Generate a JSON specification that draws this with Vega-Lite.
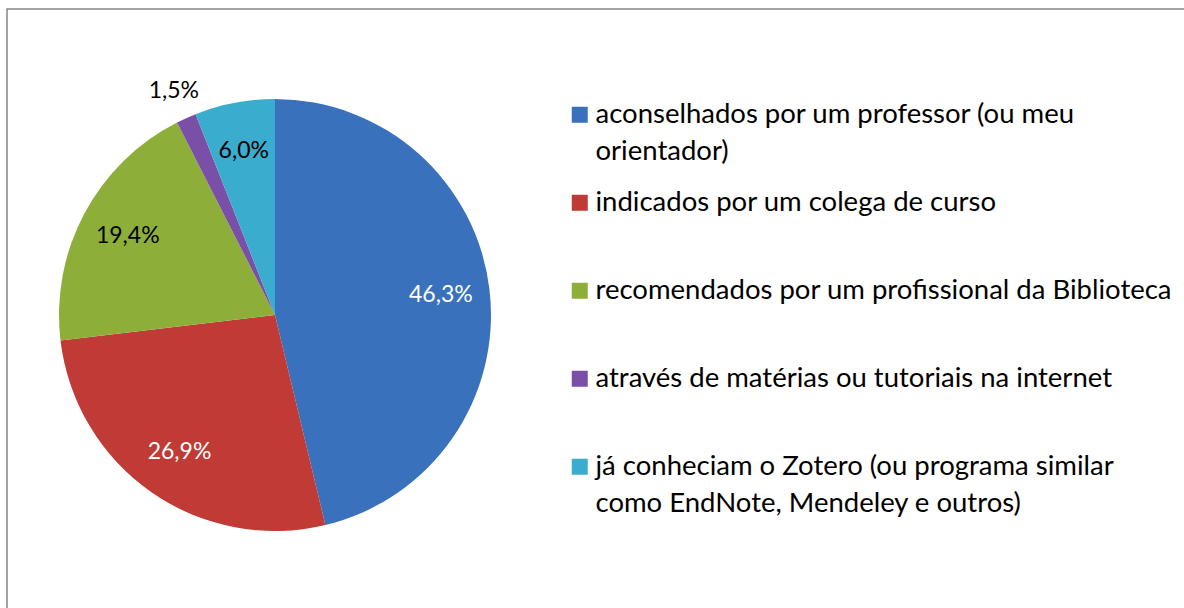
{
  "$schema": "https://vega.github.io/schema/vega-lite/v6.json",
  "width": 1177,
  "height": 599,
  "autosize": {"type": "none"},
  "padding": {"left": 7, "top": 9, "right": 0, "bottom": 0},
  "background": "white",
  "view": {"stroke": "#868686", "strokeWidth": 1.5, "strokeDash": [1177, 1776, 599, 10]},
  "config": {
    "font": "Lato",
    "locale": {"number": {"decimal": ",", "thousands": ".", "grouping": [3], "currency": ["", ""]}}
  },
  "data": {
    "values": [
      {"cat": "aconselhados por um professor (ou meu orientador)", "pct": 0.463, "ord": 1},
      {"cat": "indicados por um colega de curso", "pct": 0.269, "ord": 2},
      {"cat": "recomendados por um profissional da Biblioteca", "pct": 0.194, "ord": 3},
      {"cat": "através de matérias ou tutoriais na internet", "pct": 0.015, "ord": 4},
      {"cat": "já conheciam o Zotero (ou programa similar como EndNote, Mendeley e outros)", "pct": 0.06, "ord": 5}
    ]
  },
  "encoding": {
    "theta": {"field": "pct", "type": "quantitative", "stack": true},
    "order": {"field": "ord", "type": "quantitative"}
  },
  "layer": [
    {
      "mark": {"type": "arc", "outerRadius": 216, "x": {"expr": "width*0.2277"}, "y": {"expr": "height*0.5109"}},
      "encoding": {
        "color": {
          "field": "cat",
          "type": "nominal",
          "sort": null,
          "scale": {
            "domain": [
              "aconselhados por um professor (ou meu orientador)",
              "indicados por um colega de curso",
              "recomendados por um profissional da Biblioteca",
              "através de matérias ou tutoriais na internet",
              "já conheciam o Zotero (ou programa similar como EndNote, Mendeley e outros)"
            ],
            "range": ["#3a71bd", "#c03a36", "#8eae3a", "#7a4fa8", "#3aaccd"]
          },
          "legend": {
            "orient": "none",
            "legendX": 559,
            "legendY": 92,
            "title": null,
            "padding": 0,
            "symbolType": "square",
            "symbolSize": 256,
            "symbolStrokeWidth": 0,
            "symbolOpacity": 1,
            "labelFont": "Lato",
            "labelFontSize": 27.5,
            "labelColor": "#000000",
            "labelOffset": 2,
            "labelLimit": 0,
            "rowPadding": 22,
            "gridAlign": "all",
            "labelExpr": "datum.label == 'aconselhados por um professor (ou meu orientador)' ? ['aconselhados por um professor (ou meu', 'orientador)'] : datum.label == 'já conheciam o Zotero (ou programa similar como EndNote, Mendeley e outros)' ? ['já conheciam o Zotero (ou programa similar', 'como EndNote, Mendeley e outros)'] : datum.label",
            "encode": {"labels": {"update": {"lineHeight": {"value": 37}}}}
          }
        }
      }
    },
    {
      "mark": {"type": "text", "fontSize": 23, "font": "Lato", "radius": 167, "x": {"expr": "width*0.2277"}, "y": {"expr": "height*0.5109"}},
      "encoding": {
        "text": {"condition": {"test": "datum.pct >= 0.03", "field": "pct", "type": "quantitative", "format": ".1%"}, "value": ""},
        "color": {"condition": {"test": "datum.pct > 0.25", "value": "#ffffff"}, "value": "#000000"}
      }
    },
    {
      "mark": {"type": "text", "fontSize": 23, "font": "Lato", "radius": 246, "x": {"expr": "width*0.2277"}, "y": {"expr": "height*0.5109"}},
      "encoding": {
        "text": {"condition": {"test": "datum.pct < 0.03", "field": "pct", "type": "quantitative", "format": ".1%"}, "value": ""},
        "color": {"value": "#000000"}
      }
    }
  ]
}
